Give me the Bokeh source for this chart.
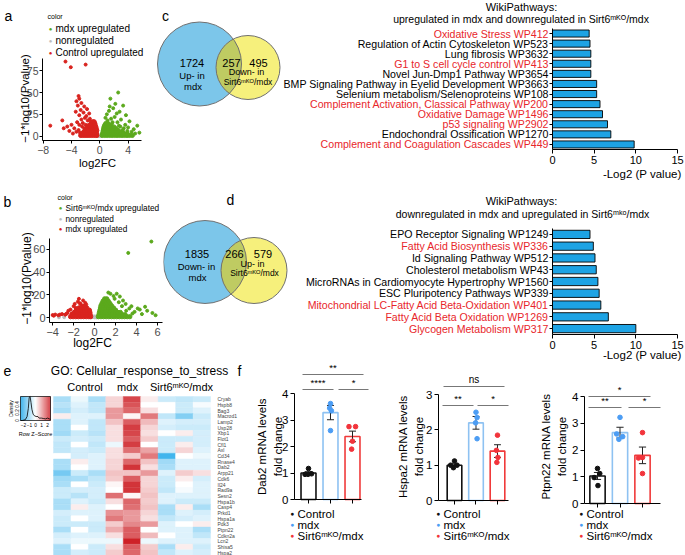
import numpy as np
from bokeh.plotting import figure
from bokeh.models import Range1d, FixedTicker, Label, ColumnDataSource, LinearColorMapper
from bokeh.layouts import row, column
from bokeh.embed import file_html
from bokeh.resources import INLINE

FONT = "Liberation Sans"
TRED = "#E8262B"
VRED = "#D9231E"
VGREEN = "#5BA91C"
VGREY = "#BDBDBD"

# ---------------- data: volcano a (mdx vs Control) ----------------
a_red_dense_x = [-2.7, -2.4, -2.1, -1.8, -1.5, -1.2, -0.9, -0.6, -0.4,
                 -2.5, -2.2, -1.9, -1.6, -1.3, -1.0, -0.7, -0.45,
                 -2.3, -2.0, -1.7, -1.4, -1.1, -0.8, -0.5,
                 -2.1, -1.8, -1.5, -1.2, -0.9, -0.6, -0.42,
                 -1.9, -1.6, -1.3, -1.0, -0.7, -0.5,
                 -1.7, -1.4, -1.1, -0.8, -0.55,
                 -1.5, -1.2, -0.9, -0.65,
                 -1.2, -0.9, -0.7,
                 -1.0, -0.8]
a_red_dense_y = [0.8] * 9 + [2.5] * 8 + [4.5] * 7 + [6.5] * 7 + [8.5] * 6 + [10.5] * 5 + [12.5] * 4 + \
                [14.5] * 3 + [16.5] * 2
a_red_out_x = [-4.85, -4.1, -2.0, -7.0, -3.0, -2.9, -3.3, -2.6, -3.1, -2.2, -1.8, -2.7, -3.4, -2.3,
               -1.5, -2.9, -1.9, -5.3, -5.1, -4.6, -4.0, -3.6, -3.2, -2.6, -2.1, -1.4, -1.7, -2.9,
               -2.5, -3.0, -3.3, -2.8, -4.3, -3.8, -2.4, -1.3, -2.0, -2.2]
a_red_out_y = [85.5, 79, 82, 12, 46, 43, 40, 38, 35, 34, 31, 30, 28, 27,
               26, 24, 23, 18, 9, 11, 13, 9, 16, 19, 21, 20, 18, 13,
               11, 7, 5, 4, 6, 3, 15, 17, 13, 9]
a_green_dense_x = [0.35, 0.7, 1.05, 1.4, 1.75, 2.1, 2.45, 2.8, 3.15, 3.5, 3.85, 4.2, 4.6,
                   0.4, 0.75, 1.1, 1.45, 1.8, 2.15, 2.5, 2.85, 3.2, 3.55, 3.9,
                   0.45, 0.8, 1.15, 1.5, 1.85, 2.2, 2.55, 2.9, 3.25,
                   0.5, 0.85, 1.2, 1.55, 1.9, 2.25, 2.6,
                   0.55, 0.9, 1.25, 1.6, 1.95, 2.3,
                   0.6, 0.95, 1.3, 1.65, 2.0,
                   0.7, 1.05, 1.4,
                   0.85, 1.15]
a_green_dense_y = [0.8] * 13 + [2.5] * 11 + [4.5] * 9 + [6.5] * 7 + [8.5] * 6 + [10.5] * 5 + [12.5] * 3 + \
                  [14.5] * 2
a_green_out_x = [2.6, 1.5, 2.2, 3.3, 1.9, 1.3, 2.8, 1.0, 3.7, 2.1, 1.6, 3.0, 4.2, 2.5, 5.3, 4.8,
                 5.6, 3.6, 1.1, 1.8, 4.0, 3.4, 5.0, 0.8, 2.4, 1.4, 4.5, 3.9, 2.9, 3.2, 1.7, 2.7]
a_green_out_y = [50, 43, 37, 35, 32, 29, 28, 25, 24, 22, 20, 19, 17, 16, 12, 8,
                 4, 13, 18, 16, 10, 9, 3, 21, 26, 34, 5, 6, 11, 7, 14, 12]
a_grey_x = [-0.35, -0.2, -0.1, 0.0, 0.1, 0.2, 0.3, -0.3, 0.05, -0.15, 0.25, -2.7, 0.15]
a_grey_y = [0.4, 0.9, 0.3, 0.6, 1.0, 0.3, 0.7, 1.1, 0.15, 0.5, 1.2, 0.2, 0.1]

# ---------------- data: volcano b (Sirt6mKO/mdx vs mdx) ----------------
b_red_dense_x = [-2.3, -2.05, -1.8, -1.55, -1.3, -1.05, -0.8, -0.55, -0.38,
                 -2.15, -1.9, -1.65, -1.4, -1.15, -0.9, -0.65, -0.42,
                 -1.95, -1.7, -1.45, -1.2, -0.95, -0.7, -0.45,
                 -1.75, -1.5, -1.25, -1.0, -0.75, -0.5,
                 -1.5, -1.25, -1.0, -0.75,
                 -1.2, -0.95]
b_red_dense_y = [0.7] * 9 + [2.5] * 8 + [4.5] * 7 + [6.5] * 6 + [8.5] * 4 + [10] * 2
b_red_out_x = [-4.0, -3.75, -3.45, -3.1, -2.8, -2.6, -3.9, -2.5, -1.6, -1.35, -1.5, -1.1, -2.0,
               -1.8, -0.9, -2.7, -3.3, -0.8, -1.4, -2.3, -2.2, -1.9]
b_red_out_y = [2.2, 2.6, 2.0, 3.0, 2.5, 4.0, 1.6, 6, 14, 12, 16.5, 15, 10,
               8.5, 13, 3.2, 2.6, 11.5, 12.5, 7, 3.5, 12]
b_green_dense_x = [0.35, 0.6, 0.85, 1.1, 1.35, 1.6, 1.85, 2.1, 2.35, 2.6, 2.85, 3.1, 3.35,
                   0.4, 0.65, 0.9, 1.15, 1.4, 1.65, 1.9, 2.15, 2.4, 2.65, 2.9,
                   0.45, 0.7, 0.95, 1.2, 1.45, 1.7, 1.95, 2.2, 2.45,
                   0.5, 0.75, 1.0, 1.25, 1.5, 1.75, 2.0,
                   0.55, 0.8, 1.05, 1.3, 1.55, 1.8,
                   0.6, 0.85, 1.1, 1.35, 1.6,
                   0.7, 0.95, 1.2, 1.45,
                   0.8, 1.05, 1.3,
                   0.95, 1.15]
b_green_dense_y = [0.7] * 13 + [2.5] * 11 + [4.5] * 9 + [6.5] * 7 + [8.5] * 6 + [10.5] * 5 + [12.5] * 4 + \
                  [14.5] * 3 + [16.5] * 2
b_green_out_x = [1.5, 2.1, 2.4, 2.95, 3.2, 5.4, 1.8, 2.7, 3.5, 4.1, 3.0, 3.8, 4.5, 5.0, 5.8, 1.3,
                 2.3, 4.3, 3.3, 2.6, 1.9, 3.6, 4.8, 5.5]
b_green_out_y = [21, 21, 18.5, 12, 57, 67, 19, 15, 10, 8, 6, 5, 3, 6, 2, 22,
                 13.5, 7, 8, 10, 16.5, 3.5, 9.5, 4]
b_grey_x = [-0.3, -0.15, 0.0, 0.1, 0.25, -0.05, 0.15, -2.9, -3.4]
b_grey_y = [0.3, 0.6, 0.2, 0.8, 0.4, 1.0, 0.1, 0.3, 0.2]

# ---------------- data: Venn ----------------
venn_c_counts = ["1724", "257", "495"]
venn_d_counts = ["1835", "266", "579"]

# ---------------- data: WikiPathways bars ----------------
path_up = ["Oxidative Stress WP412", "Regulation of Actin Cytoskeleton WP523", "Lung fibrosis WP3632",
           "G1 to S cell cycle control WP413", "Novel Jun-Dmp1 Pathway WP3654",
           "BMP Signaling Pathway in Eyelid Development WP3663", "Selenium metabolism/Selenoproteins WP108",
           "Complement Activation, Classical Pathway WP200", "Oxidative Damage WP1496",
           "p53 signaling WP2902", "Endochondral Ossification WP1270",
           "Complement and Coagulation Cascades WP449"]
path_up_val = [4.4, 4.5, 4.6, 4.6, 4.6, 5.3, 5.3, 5.7, 6.0, 6.6, 7.0, 9.8]
path_up_red = [True, False, False, True, False, False, False, True, True, True, False, True]

path_dn = ["EPO Receptor Signaling WP1249", "Fatty Acid Biosynthesis WP336", "Id Signaling Pathway WP512",
           "Cholesterol metabolism WP43", "MicroRNAs in Cardiomyocyte Hypertrophy WP1560",
           "ESC Pluripotency Pathways WP339", "Mitochondrial LC-Fatty Acid Beta-Oxidation WP401",
           "Fatty Acid Beta Oxidation WP1269", "Glycogen Metabolism WP317"]
path_dn_val = [4.5, 4.9, 5.1, 5.25, 5.45, 5.6, 5.8, 6.7, 10.0]
path_dn_red = [False, True, False, False, False, False, True, True, True]

# ---------------- data: heatmap (row z-scores) ----------------
genes = ["Cryab", "Hspb8", "Bag3", "Macrod1", "Lamp2", "Usp28", "Xbp1", "Flot1", "Cfl1", "Axl", "Cd34",
         "Rnase4", "Dab2", "Arpp21", "Cdk6", "Il24", "Rad9a", "Sesn2", "Hspa1b", "Casp4", "Prkd1",
         "Hspa1a", "Pdk3", "Ptpn22", "Cdkn2a", "Lcn2", "Shisa5", "Hspa2"]
heat_z = [
    [-0.8, -0.2, -0.8, 0.4, 1.8, 0.2, -0.5, -0.6, -0.5],
    [-0.7, -0.3, -0.6, 0.4, 1.7, 0.0, 0.0, -0.5, -0.1],
    [-0.8, -0.4, -0.6, 1.0, 1.5, 0.3, 0.0, -0.5, -0.3],
    [0.2, -0.3, -0.3, 1.0, 0.1, 1.3, -0.6, -1.2, -0.5],
    [-0.8, -0.3, -0.6, 0.6, 1.6, 0.7, -0.3, -0.4, -0.4],
    [-0.8, 0.0, -0.6, 0.3, 1.9, 0.4, -0.4, -0.5, -0.5],
    [-0.9, -0.5, -0.7, 0.3, 1.8, 0.3, 0.0, 0.2, -0.4],
    [-0.5, -0.4, -0.5, 0.3, 1.6, 0.5, -0.5, -0.5, -0.4],
    [-0.6, 0.0, -0.6, -0.2, 1.9, 0.0, -0.5, 0.2, -0.4],
    [-0.6, -0.4, -0.5, 0.3, 1.4, 0.9, -0.5, 0.4, -0.3],
    [0.0, -0.4, -0.3, 0.3, 0.5, 1.3, -1.8, 0.0, -0.2],
    [-0.8, 0.2, -0.3, 0.4, 1.5, 0.6, -0.9, -0.3, -0.3],
    [-0.8, 0.0, -0.3, 0.4, 2.0, 0.3, -0.8, -0.3, -0.3],
    [-1.3, -0.5, -0.8, 0.6, 0.6, 1.0, -0.3, 0.5, 0.3],
    [-0.9, -0.8, -0.6, 0.5, 1.6, 0.4, -0.5, 0.2, -0.4],
    [-0.8, 0.0, -0.5, 0.1, 2.0, 0.4, -0.5, 0.0, -0.3],
    [-0.5, -0.4, -0.4, 0.0, 2.0, 0.5, -0.6, -0.1, -0.3],
    [-0.5, -0.7, -0.4, 1.4, 0.1, 0.6, -0.3, -0.3, -0.3],
    [-0.8, -0.3, -0.5, 0.3, 1.5, 0.5, -0.3, -0.5, -0.5],
    [-0.8, 0.2, -0.3, 0.0, 1.4, 0.6, -0.8, 0.2, -0.8],
    [-0.4, -0.3, -0.3, 1.1, 1.0, 0.4, -0.8, -0.3, -0.4],
    [-0.5, 0.0, -0.3, 1.3, 1.0, 0.3, -0.6, -0.4, -0.3],
    [-0.5, -0.5, -0.5, 0.5, 1.2, 1.0, -0.3, 0.0, 0.2],
    [-0.8, 0.0, -0.5, 0.8, 1.6, 0.0, -0.3, -0.3, -0.8],
    [-0.4, -0.3, -0.3, 0.3, 1.6, 0.7, 0.0, -0.3, -0.6],
    [-0.3, -0.2, -0.2, -0.2, 2.2, -0.2, -0.3, -0.3, -0.3],
    [-0.8, 0.0, -0.5, 0.3, 1.6, 0.5, -0.8, 0.2, -0.5],
    [-0.8, -0.4, -0.5, 0.5, 1.5, 0.6, -0.6, -0.3, -0.4],
]
key_dens_z = [-2.5, -2.2, -1.7, -1.4, -1.2, -1.05, -0.9, -0.75, -0.6, -0.4, -0.2, 0.1, 0.4, 0.6, 1.0, 1.3, 1.7, 2.0, 2.3, 2.5]
key_dens_d = [0.0, 0.0, 0.02, 0.1, 0.3, 0.58, 0.6, 0.45, 0.28, 0.16, 0.12, 0.1, 0.1, 0.06, 0.06, 0.05, 0.04, 0.06, 0.04, 0.03]

# ---------------- data: qPCR ----------------
groups = ["Control", "mdx", "Sirt6\u1d50\u1d37\u1d3c/mdx"]
dab2_mean = [1.0, 3.28, 2.38]
dab2_sem = [0.05, 0.27, 0.2]
dab2_pts_x = [[1.0, 0.84, 0.98, 1.14], [2.0, 1.96, 2.04, 2.0], [2.84, 3.14, 3.0, 2.96]]
dab2_pts_y = [[1.17, 0.95, 0.95, 0.97], [3.62, 3.45, 3.35, 2.6], [2.75, 2.75, 2.2, 1.9]]
hspa2_mean = [1.0, 2.2, 1.4]
hspa2_sem = [0.04, 0.18, 0.18]
hspa2_pts_x = [[1.0, 0.82, 1.12, 0.95], [2.0, 2.05, 1.98, 2.05], [3.0, 2.95, 3.02, 2.97]]
hspa2_pts_y = [[1.12, 1.0, 1.0, 0.93], [2.5, 2.35, 2.2, 1.75], [1.85, 1.42, 1.22, 1.08]]
ptpn22_mean = [1.03, 2.65, 1.8]
ptpn22_sem = [0.13, 0.2, 0.31]
ptpn22_pts_x = [[1.0, 1.1, 0.85, 1.02], [2.0, 1.85, 2.12, 1.95], [3.0, 3.0, 2.82, 3.0]]
ptpn22_pts_y = [[1.31, 1.12, 0.97, 0.67], [3.22, 2.6, 2.5, 2.4], [2.65, 1.72, 1.7, 1.12]]


# ---------------- helpers ----------------
def canvas_fig(ox, oy, w, h, area=None, xr=None, yr=None, axes=True, yloc="left"):
    """Figure whose frame is the whole canvas; `area` (ref px) maps to data ranges xr, yr."""
    if area is None:
        area, xr, yr = (ox, ox + w, oy, oy + h), (ox, ox + w), (oy + h, oy)
    px0, px1, py0, py1 = area
    sx = (xr[1] - xr[0]) / (px1 - px0)
    sy = (yr[1] - yr[0]) / (py1 - py0)
    X0 = xr[0] - (px0 - ox) * sx
    X1 = xr[1] + (ox + w - px1) * sx
    Y0 = yr[0] - (oy + h - py1) * sy
    Y1 = yr[1] + (py0 - oy) * sy
    p = figure(width=w, height=h, x_range=Range1d(X0, X1), y_range=Range1d(Y0, Y1),
               output_backend="svg", toolbar_location=None,
               x_axis_location="below" if axes else None,
               y_axis_location=yloc if axes else None,
               min_border_left=0, min_border_right=0, min_border_top=0, min_border_bottom=0)
    p.outline_line_color = None
    p.title.visible = False
    for g in p.grid:
        g.visible = False
    p.border_fill_color = "white"
    p.background_fill_color = "white"

    def tr(px, py):
        return xr[0] + (px - px0) * sx, yr[0] + (py1 - py) * sy
    return p, tr


def txt(p, tr, px, py, text, size=10, color="black", align="left", baseline="middle", angle=0, style="normal"):
    x, y = tr(px, py)
    p.add_layout(Label(x=x, y=y, text=text, text_font=FONT, text_font_size=f"{size}px",
                       text_color=color, text_align=align, text_baseline=baseline,
                       angle=angle, angle_units="deg", text_font_style=style))


def style_axes(p, label_size="10px", label_color="black", tick_out=3):
    for ax in p.axis:
        ax.axis_line_color = "black"
        ax.axis_line_width = 1
        ax.major_tick_line_color = "black"
        ax.minor_tick_line_color = None
        ax.major_tick_in = 0
        ax.major_tick_out = int(tick_out)
        ax.major_label_text_font = FONT
        ax.major_label_text_font_size = label_size
        ax.major_label_text_color = label_color
        ax.major_label_standoff = 2


def volcano(ox, oy, w, h, area, xr, yr, dense, outl, grey, xt, yt, xover, legend, lpos, letter,
            fs, tfs, lfs, xlab_pos, ylab_pos):
    p, tr = canvas_fig(ox, oy, w, h, area, xr, yr)
    p.scatter(grey[0], grey[1], size=3.0, color=VGREY)
    p.scatter(dense[0], dense[1], size=4.2, color=VRED)
    p.scatter(dense[2], dense[3], size=4.2, color=VGREEN)
    p.scatter(outl[0], outl[1], size=3.0, color=VRED)
    p.scatter(outl[2], outl[3], size=3.0, color=VGREEN)
    style_axes(p, label_size=f"{fs}px", label_color="#4D4D4D", tick_out=3)
    p.xaxis.ticker = FixedTicker(ticks=xt)
    p.yaxis.ticker = FixedTicker(ticks=yt)
    p.xaxis.major_label_overrides = xover
    p.xaxis.fixed_location = yr[0]
    p.xaxis.bounds = xr
    p.yaxis.fixed_location = xr[0]
    p.yaxis.bounds = yr
    p.yaxis.major_label_standoff = 1
    txt(p, tr, xlab_pos[0], xlab_pos[1], "log2FC", size=tfs, align="center")
    txt(p, tr, ylab_pos[0], ylab_pos[1], "\u22121*log10(Pvalue)", size=tfs, align="center", angle=90)
    lx, ly, dy = lpos
    txt(p, tr, lx - 3, ly, "color", size=7)
    for i, (t, c) in enumerate(legend):
        txt(p, tr, lx, ly + dy * (i + 1), "\u25cf", size=6, color=c, align="center")
        txt(p, tr, lx + 5, ly + dy * (i + 1), t, size=lfs)
    txt(p, tr, letter[0], letter[1], letter[2], size=14)
    return p


def lens_poly(c1, r1, c2, r2, n=60):
    d = np.hypot(c2[0] - c1[0], c2[1] - c1[1])
    phi = np.arctan2(c2[1] - c1[1], c2[0] - c1[0])
    a = (r1 ** 2 - r2 ** 2 + d ** 2) / (2 * d)
    al1 = np.arccos(a / r1)
    al2 = np.arccos((d - a) / r2)
    t1 = np.linspace(phi - al1, phi + al1, n)
    t2 = np.linspace(phi + np.pi - al2, phi + np.pi + al2, n)
    xs = list(c1[0] + r1 * np.cos(t1)) + list(c2[0] + r2 * np.cos(t2))
    ys = list(c1[1] + r1 * np.sin(t1)) + list(c2[1] + r2 * np.sin(t2))
    return xs, ys


def venn(ox, oy, w, h, c1, r1, c2, r2, counts, texts, letter):
    p, tr = canvas_fig(ox, oy, w, h, axes=False)
    p.circle(x=[c1[0]], y=[c1[1]], radius=r1, fill_color="#7CC6EA", line_color=None)
    p.circle(x=[c2[0]], y=[c2[1]], radius=r2, fill_color="#F6F07C", line_color=None)
    lx, ly = lens_poly(c1, r1, c2, r2)
    p.patch(lx, ly, fill_color="#BFCB62", line_color=None)
    p.circle(x=[c1[0], c2[0]], y=[c1[1], c2[1]], radius=[r1, r2], fill_color=None,
             line_color="#707070", line_width=1)
    for (px, py), c in zip(texts["num"], counts):
        txt(p, tr, px, py, c, size=11, align="center")
    for px, py, t, s in texts["lab"]:
        txt(p, tr, px, py, t, size=s, align="center")
    txt(p, tr, letter[0], letter[1], letter[2], size=14, align="center")
    return p


def bars(ox, oy, w, h, fy0, fy1, names, vals, reds, sub, t1y, t2y, xly):
    n = len(names)
    p, tr = canvas_fig(ox, oy, w, h, (552, 677, fy0, fy1), (0, 15), (-0.5, n - 0.5))
    ys = [n - 1 - i for i in range(n)]
    p.hbar(y=ys, left=0, right=vals, height=0.7, fill_color="#1DA3E4", line_color="black", line_width=0.9)
    style_axes(p, label_size="11px", tick_out=4)
    p.xaxis.ticker = FixedTicker(ticks=[0, 5, 10, 15])
    p.xaxis.fixed_location = -0.5
    p.xaxis.bounds = (0, 15)
    p.yaxis.ticker = FixedTicker(ticks=list(range(n)))
    p.yaxis.major_label_overrides = {i: "" for i in range(n)}
    p.yaxis.major_tick_out = 3
    p.yaxis.fixed_location = 0
    p.yaxis.bounds = (-0.5, n - 0.5)
    for i, nm in enumerate(names):
        p.add_layout(Label(x=0, y=ys[i], x_offset=-4, text=nm, text_font=FONT, text_font_size="10.6px",
                           text_color=TRED if reds[i] else "black", text_align="right",
                           text_baseline="middle"))
    txt(p, tr, 521, t1y, "WikiPathways:", size=11, align="center")
    txt(p, tr, 522, t2y, sub, size=10.5, align="center")
    txt(p, tr, 681, xly, "-Log2 (P value)", size=11.5, align="right")
    return p


def qpcr(ox, oy, w, h, area, xr, yr, ymax_tick, means, sems, ptsx, ptsy, ylab, ylab_x, sig, xend, leg_x):
    p, tr = canvas_fig(ox, oy, w, h, area, xr, yr)
    xs = [1, 2, 3]
    lines = ["#111111", "#8EC2F2", "#F03A3A"]
    dots = ["#111111", "#4C9DF4", "#F2343B"]
    p.vbar(x=xs, top=means, width=0.68, bottom=0, fill_color="white", line_color=lines, line_width=1.6)
    lo = [m - s for m, s in zip(means, sems)]
    hi = [m + s for m, s in zip(means, sems)]
    p.segment(x0=xs, y0=lo, x1=xs, y1=hi, color="#222222", line_width=1)
    p.segment(x0=[x - 0.16 for x in xs], y0=hi, x1=[x + 0.16 for x in xs], y1=hi, color="#222222", line_width=1)
    p.segment(x0=[x - 0.16 for x in xs], y0=lo, x1=[x + 0.16 for x in xs], y1=lo, color="#222222", line_width=1)
    for gi in range(3):
        p.scatter(ptsx[gi], ptsy[gi], size=4.6, color=dots[gi])
    style_axes(p, label_size="11.5px", tick_out=4)
    p.yaxis.ticker = FixedTicker(ticks=list(range(ymax_tick + 1)))
    p.yaxis.bounds = (0, ymax_tick)
    p.yaxis.fixed_location = xr[0]
    p.xaxis.ticker = FixedTicker(ticks=xs)
    p.xaxis.major_label_overrides = {1: "", 2: "", 3: ""}
    p.xaxis.fixed_location = 0
    p.xaxis.bounds = (xr[0], tr(xend, 0)[0])
    txt(p, tr, ylab_x, 446, ylab, size=11.5, align="center", angle=90)
    txt(p, tr, ylab_x + 16, 446, "fold change", size=11.5, align="center", angle=90)
    for (x0, x1, yl, t) in sig:
        a0 = tr(x0, yl)
        a1 = tr(x1, yl)
        p.segment(x0=[a0[0]], y0=[a0[1]], x1=[a1[0]], y1=[a1[1]], color="#777777", line_width=1)
        txt(p, tr, (x0 + x1) / 2, yl - 1.5, t, size=10 if t == "ns" else 9.5, align="center", baseline="bottom")
    for i, g in enumerate(groups):
        yy = 513 + 11 * i
        txt(p, tr, leg_x, yy, "\u25cf", size=6.5, color=dots[i], align="center")
        txt(p, tr, leg_x + 5, yy, g, size=11.5)
    return p


# ---------------- row 1 ----------------
pa = volcano(0, 0, 150, 188, (42, 141, 58, 140), (-8.1, 5.9), (-5, 89),
             (a_red_dense_x, a_red_dense_y, a_green_dense_x, a_green_dense_y),
             (a_red_out_x, a_red_out_y, a_green_out_x, a_green_out_y),
             (a_grey_x, a_grey_y),
             [-8, -4, 0, 4], [0, 25, 50, 75], {-8: "\u22128", -4: "\u22124"},
             [("mdx upregulated", VGREEN), ("nonregulated", VGREY), ("Control upregulated", VRED)],
             (50, 16, 12), (4, 15, "a"), 10.5, 11.5, 10, (97, 162), (24, 98))

vc = venn(150, 0, 132, 188, (199, 63.5), 42, (247.5, 67), 32, venn_c_counts,
          {"num": [(191.5, 62), (231, 62), (258, 62)],
           "lab": [(191.5, 75, "Up- in", 9.5), (192.5, 86, "mdx", 9.5), (246, 71.5, "Down- in", 9),
                   (247.5, 81, "Sirt6\u1d50\u1d37\u1d3c/mdx", 8.5)]},
          (165, 15, "c"))

bc = bars(282, 0, 403, 188, 28, 149, path_up, path_up_val, path_up_red,
          "upregulated in mdx  and downregulated in Sirt6\u1d50\u1d37\u1d3c/mdx", 6.5, 18, 173)

# ---------------- row 2 ----------------
pb = volcano(0, 188, 163, 174, (49, 162, 238, 322), (-4.3, 6.46), (-4.4, 69.7),
             (b_red_dense_x, b_red_dense_y, b_green_dense_x, b_green_dense_y),
             (b_red_out_x, b_red_out_y, b_green_out_x, b_green_out_y),
             (b_grey_x, b_grey_y),
             [-4, -2, 0, 2, 4, 6], [0, 20, 40, 60], {-4: "\u22124", -2: "\u22122"},
             [("Sirt6\u1d50\u1d37\u1d3c/mdx upregulated", VGREEN), ("nonregulated", VGREY),
              ("mdx upregulated", VRED)],
             (60, 197, 10.5), (3, 201, "b"), 11, 12, 8.3, (92, 342), (26, 278))

vd = venn(163, 188, 126, 174, (204.5, 261.5), 41.5, (253.5, 270), 33, venn_d_counts,
          {"num": [(196.5, 253), (234, 253), (262.5, 253)],
           "lab": [(196, 266, "Down- in", 9.5), (197, 276.5, "mdx", 9.5), (252, 263, "Up- in", 9),
                   (254, 272, "Sirt6\u1d50\u1d37\u1d3c/mdx", 8.5)]},
          (230, 199, "d"))

bd = bars(289, 188, 396, 174, 228, 334, path_dn, path_dn_val, path_dn_red,
          "downregulated in mdx and upregulated in Sirt6\u1d50\u1d4f\u1d52/mdx", 200, 213, 354)

# ---------------- row 3: heatmap ----------------
ph, th = canvas_fig(0, 362, 254, 193, (53, 210, 396, 555), (-0.5, 8.5), (27.5, -0.5), yloc="right")


def zcol(z, lim=2.3):
    t = max(-1.0, min(1.0, z / lim))
    if t < 0:
        c0, c1, f = (255, 255, 255), (18, 162, 232), -t
    else:
        c0, c1, f = (255, 255, 255), (204, 24, 30), t
    return "#%02x%02x%02x" % tuple(int(round(a + (b - a) * f)) for a, b in zip(c0, c1))


palette = [zcol(v) for v in np.linspace(-2.3, 2.3, 101)]
mapper = LinearColorMapper(palette=palette, low=-2.3, high=2.3)
hx, hy, hz = [], [], []
for ri, rowv in enumerate(heat_z):
    for ci, z in enumerate(rowv):
        hx.append(ci)
        hy.append(ri)
        hz.append(z)
hsrc = ColumnDataSource(dict(x=hx, y=hy, z=hz))
ph.rect(x="x", y="y", width=1, height=1, source=hsrc,
        fill_color={"field": "z", "transform": mapper},
        line_color={"field": "z", "transform": mapper}, line_width=0.4)
ph.xaxis.visible = False
ax = ph.yaxis[0]
ax.ticker = FixedTicker(ticks=list(range(len(genes))))
ax.major_label_overrides = {i: g for i, g in enumerate(genes)}
ax.major_label_text_font = FONT
ax.major_label_text_font_size = "5px"
ax.major_label_standoff = 1
ax.axis_line_color = None
ax.major_tick_line_color = None
ax.minor_tick_line_color = None
ax.fixed_location = 8.5
ax.bounds = (-0.5, 27.5)

# colour key: z in [-2.5, 2.5] -> px 20..50 ; density in [0, 0.6] -> py 420..396
ph.extra_x_ranges = {"kx": Range1d(-2.5 - 20 / 6.0, -2.5 + (254 - 20) / 6.0)}
ph.extra_y_ranges = {"ky": Range1d(-(555 - 420) * 0.025, 0.6 + (396 - 362) * 0.025)}
kz = np.linspace(-2.5, 2.5, 51)
ph.quad(left=kz[:-1], right=kz[1:], bottom=0, top=0.6,
        fill_color=[zcol((a + b) / 2) for a, b in zip(kz[:-1], kz[1:])], line_color=None,
        x_range_name="kx", y_range_name="ky")
ph.line(key_dens_z, key_dens_d, color="black", line_width=0.8, x_range_name="kx", y_range_name="ky")
ph.quad(left=[-2.5], right=[2.5], bottom=[0], top=[0.6], fill_color=None, line_color="black",
        line_width=0.7, x_range_name="kx", y_range_name="ky")
for zt in [-2, -1, 0, 1, 2]:
    txt(ph, th, 35 + 6 * zt, 424, ("\u2212%d" % -zt) if zt < 0 else str(zt), size=4.8, align="center")
txt(ph, th, 35, 433, "Row Z\u2212Score", size=5.5, align="center")
txt(ph, th, 10, 408, "Density", size=5, align="center", angle=90)
for dv, py in [("0", 420), ("0.2", 412), ("0.4", 404)]:
    txt(ph, th, 16.5, py, dv, size=4.5, align="center", angle=90)
txt(ph, th, 139, 370, "GO: Cellular_response_to_stress", size=12, align="center")
for gx, g in zip([84.5, 127, 181], groups):
    txt(ph, th, gx, 386, g, size=11, align="center")
txt(ph, th, 3, 370, "e", size=14)
txt(ph, th, 237, 370, "f", size=14)

# ---------------- row 3: qPCR ----------------
f1 = qpcr(254, 362, 141, 193, (294, 370, 365, 499), (0.364, 3.818), (0, 5.057), 4,
          dab2_mean, dab2_sem, dab2_pts_x, dab2_pts_y, "Dab2 mRNA levels", 261,
          [(302, 363, 374, "**"), (302, 333, 389, "****"), (338, 368, 389, "*")], 361,
          292)
f2 = qpcr(395, 362, 143, 193, (438, 510, 365, 500), (0.256, 3.605), (0, 3.824), 3,
          hspa2_mean, hspa2_sem, hspa2_pts_x, hspa2_pts_y, "Hspa2 mRNA levels", 402,
          [(443, 504, 386, "ns"), (442, 473, 405, "**"), (477, 508, 405, "*")], 508,
          438)
f3 = qpcr(538, 362, 147, 193, (584, 665, 365, 503), (0.422, 4.022), (0, 5.159), 4,
          ptpn22_mean, ptpn22_sem, ptpn22_pts_x, ptpn22_pts_y, "Ptpn22 mRNA levels", 545,
          [(588, 650, 396, "*"), (588, 621, 407, "**"), (628, 660, 407, "*")], 660,
          581)

root = column(row(pa, vc, bc), row(pb, vd, bd), row(ph, f1, f2, f3))
open("out.html", "w").write(file_html(root, INLINE))
